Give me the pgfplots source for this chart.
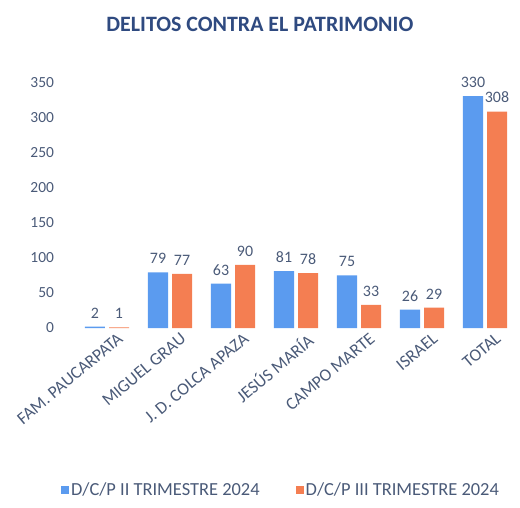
\documentclass[border=0pt]{standalone}
\usepackage{pgfplots}
\pgfplotsset{compat=1.18}
\usepackage{fontspec}
\setmainfont{Carlito}
\definecolor{serA}{HTML}{5B9BEF}
\definecolor{serB}{HTML}{F47E52}
\definecolor{txt}{HTML}{4A5A78}
\definecolor{ttl}{HTML}{2F4A80}
\begin{document}
\begin{tikzpicture}
\begin{axis}[
  scale only axis, width=441bp, height=260bp,
  ybar=4bp, bar width=20bp,
  xmin=-0.5, xmax=6.5, ymin=0, ymax=370,
  xtick=data,
  xticklabels={FAM. PAUCARPATA, MIGUEL GRAU, J. D. COLCA APAZA, JESÚS MARÍA, CAMPO MARTE, ISRAEL, TOTAL},
  x tick label style={rotate=40, anchor=north east, font=\fontsize{17.5}{19}\selectfont, text=txt, inner sep=1pt, xshift=6bp, yshift=-8bp},
  ytick={0,50,...,350},
  y tick label style={font=\fontsize{15.5}{18}\selectfont, text=txt, xshift=-18bp},
  /pgf/number format/assume math mode=true,
  axis line style={draw=none},
  major tick length=0pt,
  nodes near coords,
  every node near coord/.append style={font=\fontsize{16}{18}\selectfont, text=txt, yshift=5bp},
  legend style={at={(0.466,-0.623)}, anchor=center, draw=none, fill=none, legend columns=2, font=\fontsize{18.5}{21}\selectfont, text=txt, /tikz/every even column/.append style={column sep=34bp}},
  legend image code/.code={\draw[#1, draw=none] (0bp,-4bp) rectangle (8bp,4bp);},
  title={\bfseries DELITOS CONTRA EL PATRIMONIO},
  title style={font=\fontsize{22}{25}\selectfont, text=ttl, at={(0.418,1.146)}, anchor=center},
]
\addplot[fill=serA, draw=none] coordinates {(0,2) (1,79) (2,63) (3,81) (4,75) (5,26) (6,330)};
\addplot[fill=serB, draw=none] coordinates {(0,1) (1,77) (2,90) (3,78) (4,33) (5,29) (6,308)};
\legend{D/C/P II TRIMESTRE 2024, D/C/P III TRIMESTRE 2024}
\end{axis}
\path (current axis.south west) ++(-75.5bp,-180bp) rectangle ++(520bp,508bp);
\end{tikzpicture}
\end{document}
